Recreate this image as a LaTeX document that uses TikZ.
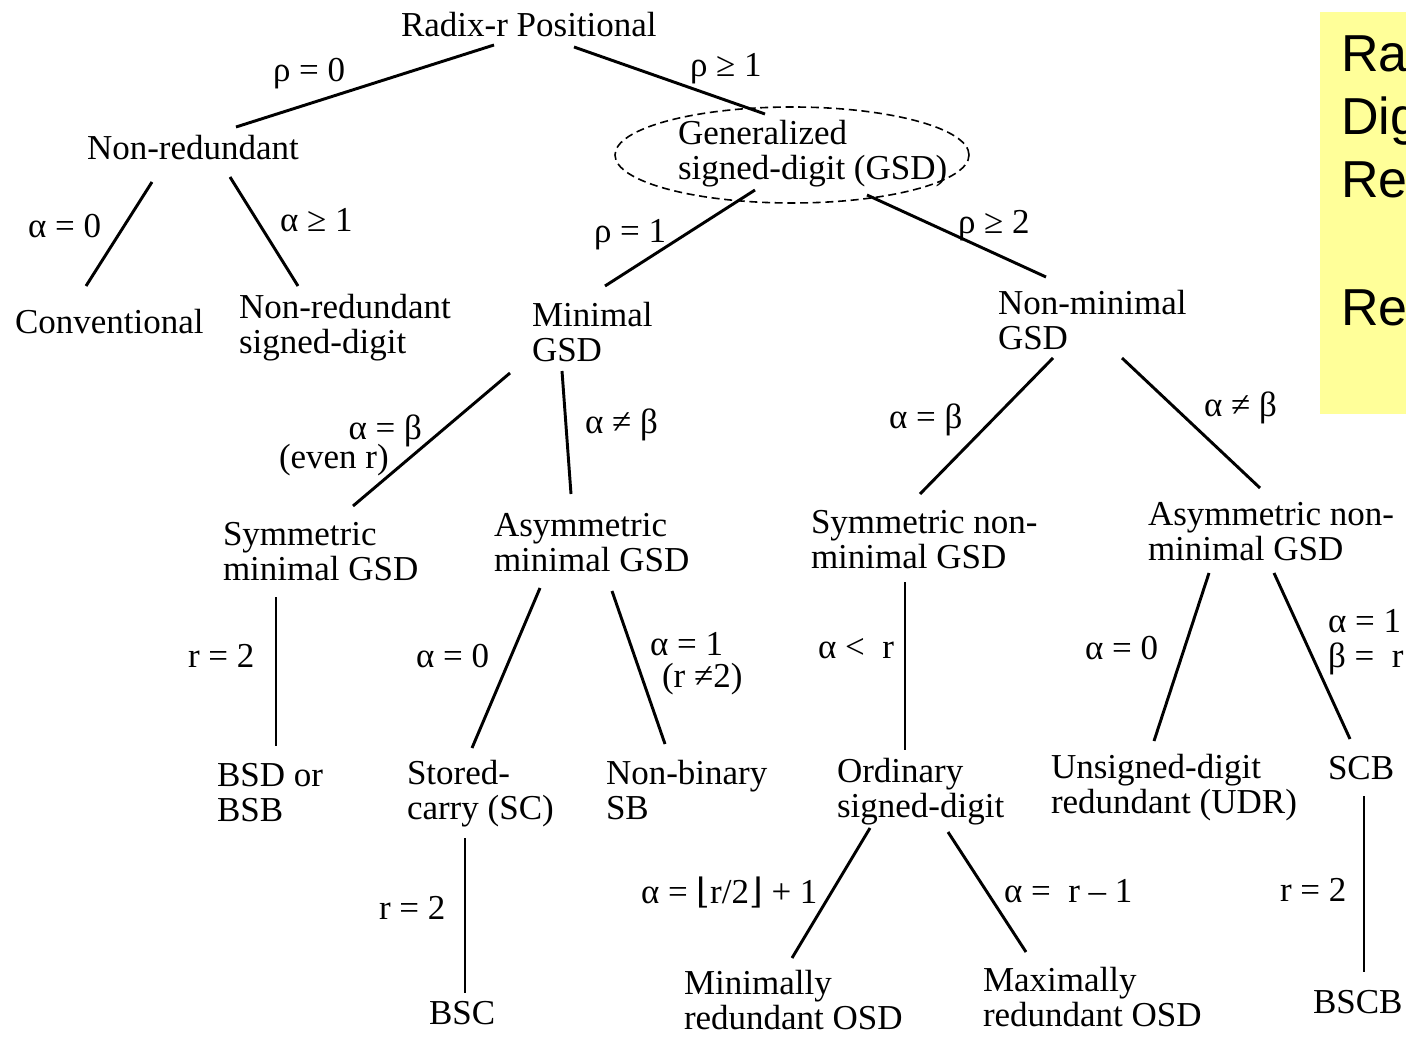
\documentclass[tikz,border=0pt]{standalone}
\usepackage{fontspec}
\setmainfont{Liberation Serif}
\newfontfamily\sansf{Liberation Sans}
\newfontfamily\dvs{DejaVu Serif}
\usetikzlibrary{shapes.geometric}
\begin{document}
\begin{tikzpicture}[x=0.75pt,y=-0.75pt,
  every node/.style={inner sep=0pt, outer sep=0pt, anchor=west, align=left,
    font=\fontsize{26.25}{26.25}\selectfont},
  edge/.style={line width=2.2pt},
  gsdell/.style={draw, ellipse, anchor=center, line width=1.2pt,
    dash pattern=on 6pt off 3.5pt, minimum width=265.5pt, minimum height=72pt},
  yel/.style={anchor=base west, font=\sansf\fontsize{39}{47}\selectfont}]
\useasboundingbox (0,0) rectangle (1406,1038);
\clip (0,0) rectangle (1406,1038);

% yellow box (cut off at right edge)
\fill[fill={rgb,255:red,255;green,255;blue,153}] (1320,12) rectangle (1420,414);
\node[yel] (y1) at (1341,72) {Ra};
\node[yel] (y2) at (1341,135) {Dig};
\node[yel] (y3) at (1341,198) {Re};
\node[yel] (y4) at (1341,325) {Re};

% nodes
\node (rad) at (401,25) {Radix-r Positional};
\node (nr) at (87,148) {Non-redundant};
\node[gsdell] (ell) at (792,155) {};
\node (gsd) at (678,153.5) {Generalized\\signed-digit (GSD)};
\node (conv) at (15,322) {Conventional};
\node (nrsd) at (239,327.5) {Non-redundant\\signed-digit};
\node (min) at (532,332) {Minimal\\GSD};
\node (nonmin) at (998,320) {Non-minimal\\GSD};
\node (symmin) at (223,552) {Symmetric\\minimal GSD};
\node (asymmin) at (494,543) {Asymmetric\\minimal GSD};
\node (symnm) at (811,540) {Symmetric non-\\minimal GSD};
\node (asymnm) at (1148,531.5) {Asymmetric non-\\minimal GSD};
\node (bsd) at (217,793) {BSD or\\BSB};
\node (sc) at (407,794) {Stored-\\carry (SC)};
\node (nbsb) at (606,790) {Non-binary\\SB};
\node (osd) at (837,791.5) {Ordinary\\signed-digit};
\node (udr) at (1051,788) {Unsigned-digit\\redundant (UDR)};
\node (scb) at (1328,768) {SCB};
\node (bsc) at (429,1013) {BSC};
\node (minosd) at (684,1000) {Minimally\\redundant OSD};
\node (maxosd) at (983,997) {Maximally\\redundant OSD};
\node (bscb) at (1313,1002) {BSCB};

% connectors
\draw[edge] ([shift={(93,20)}]rad.west) -- ([shift={(149,-21)}]nr.west);
\draw[edge] ([shift={(173,22)}]rad.west) -- ([shift={(87,-39.5)}]gsd.west);
\draw[edge] ([shift={(65,34)}]nr.west) -- ([shift={(71,-36)}]conv.west);
\draw[edge] ([shift={(143,29)}]nr.west) -- ([shift={(59,-41.5)}]nrsd.west);
\draw[edge] ([shift={(77,36.5)}]gsd.west) -- ([shift={(73,-46)}]min.west);
\draw[edge] ([shift={(189,41.5)}]gsd.west) -- ([shift={(48,-43)}]nonmin.west);
\draw[edge] ([shift={(-22,41)}]min.west) -- ([shift={(130,-46)}]symmin.west);
\draw[edge] ([shift={(30,39)}]min.west) -- ([shift={(77,-49)}]asymmin.west);
\draw[edge] ([shift={(55,38)}]nonmin.west) -- ([shift={(109,-46)}]symnm.west);
\draw[edge] ([shift={(124,38)}]nonmin.west) -- ([shift={(112,-43.5)}]asymnm.west);
\draw[edge] ([shift={(53,45)}]symmin.west) -- ([shift={(59,-47)}]bsd.west);
\draw[edge] ([shift={(46,45)}]asymmin.west) -- ([shift={(65,-46)}]sc.west);
\draw[edge] ([shift={(118,48)}]asymmin.west) -- ([shift={(59,-46)}]nbsb.west);
\draw[edge] ([shift={(94,42)}]symnm.west) -- ([shift={(68,-41.5)}]osd.west);
\draw[edge] ([shift={(61,41.5)}]asymnm.west) -- ([shift={(103,-47)}]udr.west);
\draw[edge] ([shift={(126,41.5)}]asymnm.west) -- ([shift={(22,-29)}]scb.west);
\draw[edge] ([shift={(58,44)}]sc.west) -- ([shift={(36,-20)}]bsc.west);
\draw[edge] ([shift={(33,36.5)}]osd.west) -- ([shift={(108,-42)}]minosd.west);
\draw[edge] ([shift={(111,40.5)}]osd.west) -- ([shift={(43,-45)}]maxosd.west);
\draw[edge] ([shift={(36,28)}]scb.west) -- ([shift={(51,-30)}]bscb.west);

% labels
\node (l1) at (273,74) {ρ = 0};
\node (l2) at (690,69) {ρ ≥ 1};
\node (l3) at (28,226) {α = 0};
\node (l4) at (280,220) {α ≥ 1};
\node (l5) at (594,235) {ρ = 1};
\node (l6) at (958,226) {ρ ≥ 2};
\node[anchor=east] (l7) at (422,431) {α = β};
\node (l7b) at (279,460) {(even r)};
\node (l8) at (585,425) {α ≠ β};
\node (l9) at (889,420) {α = β};
\node (l10) at (1204,408) {α ≠ β};
\node (l11) at (188,656) {r = 2};
\node (l12) at (416,656) {α = 0};
\node (l13) at (650,644) {α = 1};
\node (l13b) at (662,679) {(r ≠2)};
\node (l14) at (818,649) {α <\ \ r};
\node (l15) at (1085,648) {α = 0};
\node (l16) at (1328,642) {α = 1\\β =\ \ r};
\node (l17) at (379,908) {r = 2};
\node (l18) at (641,893) {α = {\dvs ⌊}r/2{\dvs ⌋} + 1};
\node (l19) at (1004,891) {α =\ \ r – 1};
\node (l20) at (1280,890) {r = 2};
\end{tikzpicture}
\end{document}
